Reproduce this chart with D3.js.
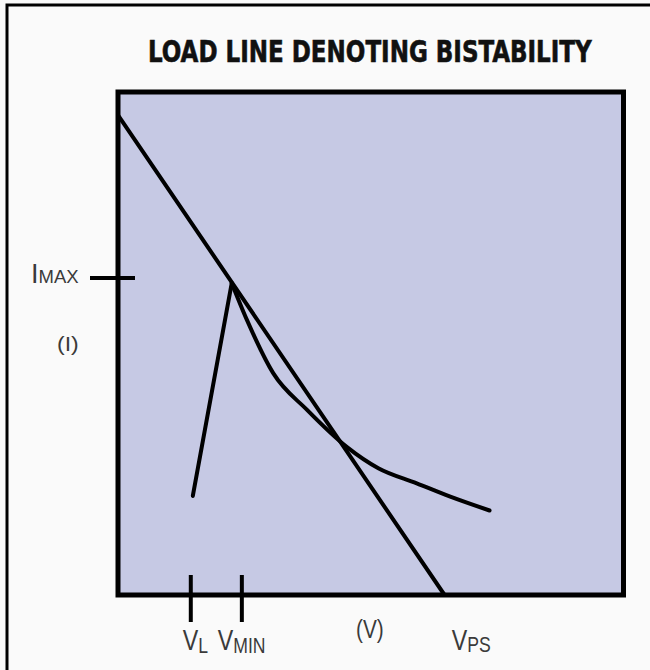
<!DOCTYPE html>
<html><head><meta charset="utf-8">
<script src="https://cdn.jsdelivr.net/npm/d3@7"></script>
<style>html,body{margin:0;padding:0;background:#fafafa;}svg{display:block;}</style>
</head><body>
<script>
// ---- data (percent of full scale on each axis) ----
const title = "LOAD LINE DENOTING BISTABILITY";
const loadLineV = [0, 64.6];
const loadLineI = [95.4, 0];
const deviceV = [14.8, 22.5, 25.5, 30.7, 37.4, 45.3, 51.5, 59.1, 65.6, 73.5];
const deviceI = [19.7, 62.0, 54.7, 44.1, 36.8, 29.4, 25.2, 22.2, 19.6, 16.8];
const xTickValues = [14.4, 24.5];
const xTickMain = ["V", "V"];
const xTickSub = ["L", "MIN"];
const yTickValues = [63.0];
const yTickMain = ["I"];
const yTickSub = ["MAX"];
const xAxisLabel = "(V)";
const yAxisLabel = "(I)";
const vpsMain = "V", vpsSub = "PS";
const vpsValue = 68.0;

const W = 650, H = 670;
const svg = d3.select("body").append("svg").attr("width", W).attr("height", H);

svg.append("rect").attr("width", W).attr("height", H).attr("fill", "#fafafa");
svg.append("path").attr("d", "M7,670 V5 H650").attr("fill", "none").attr("stroke", "#000").attr("stroke-width", 3);

const x = d3.scaleLinear().domain([0, 100]).range([118, 623.5]);
const y = d3.scaleLinear().domain([0, 100]).range([595, 92]);

// title: natural width measured, then scaled horizontally to fit
const tt = svg.append("text").attr("x", 0).attr("y", 0)
  .attr("font-family", "'DejaVu Sans Condensed', 'DejaVu Sans'").attr("font-weight", "bold")
  .attr("font-size", 31).attr("fill", "#111").attr("stroke", "#111").attr("stroke-width", 0.6).text(title);
const natW = tt.node().getComputedTextLength();
tt.attr("transform", `translate(148,62) scale(${444 / natW},1)`);

// plot box
svg.append("rect").attr("x", x(0)).attr("y", y(100)).attr("width", x(100) - x(0)).attr("height", y(0) - y(100))
  .attr("fill", "#c6c9e4").attr("stroke", "#000").attr("stroke-width", 5);

const g = svg.append("g");
const line = d3.line().x(d => x(d[0])).y(d => y(d[1]));

g.append("path").datum(d3.zip(loadLineV, loadLineI)).attr("d", line)
  .attr("fill", "none").attr("stroke", "#000").attr("stroke-width", 4).attr("stroke-linecap", "round");

const pts = d3.zip(deviceV, deviceI);
g.append("path").datum(pts.slice(0, 2)).attr("d", line)
  .attr("fill", "none").attr("stroke", "#000").attr("stroke-width", 4).attr("stroke-linecap", "round");
g.append("path").datum(pts.slice(1)).attr("d", line.curve(d3.curveMonotoneX))
  .attr("fill", "none").attr("stroke", "#000").attr("stroke-width", 4).attr("stroke-linecap", "round")
  .attr("stroke-linejoin", "round");

const font = "'Liberation Sans', Arial";
const txtCol = "#3a3a3a";
// one text element (main + subscript tspan) inside a horizontally-condensed group
function label(x0, base, sx, main, mainSize, sub, subSize, subDy) {
  const t = svg.append("g").attr("transform", `translate(${x0},${base}) scale(${sx},1)`)
    .append("text").attr("x", 0).attr("y", 0).attr("font-family", font).attr("fill", txtCol);
  t.append("tspan").attr("font-size", mainSize).text(main);
  if (sub) t.append("tspan").attr("font-size", subSize).attr("dy", subDy).text(sub);
}

// x ticks
const xLabelOffsets = [-8, -24];
xTickValues.forEach((v, k) => {
  svg.append("line").attr("x1", x(v)).attr("x2", x(v)).attr("y1", y(0) - 20).attr("y2", y(0) + 27)
    .attr("stroke", "#000").attr("stroke-width", 4);
  label(x(v) + xLabelOffsets[k], 650, 0.8, xTickMain[k], 29, xTickSub[k], 22, 3);
});

// y tick
yTickValues.forEach((v, k) => {
  svg.append("line").attr("x1", x(0) - 28).attr("x2", x(0) + 17).attr("y1", y(v)).attr("y2", y(v))
    .attr("stroke", "#000").attr("stroke-width", 4);
  label(31, y(v) + 5, 1.0, yTickMain[k], 27, yTickSub[k], 18.5, 0);
});

// axis labels
label(356, 638, 0.8, xAxisLabel, 26);
label(57, 351, 1.15, yAxisLabel, 20);
label(x(vpsValue) - 10, 650, 0.8, vpsMain, 29, vpsSub, 22, 2);
</script>
</body></html>
